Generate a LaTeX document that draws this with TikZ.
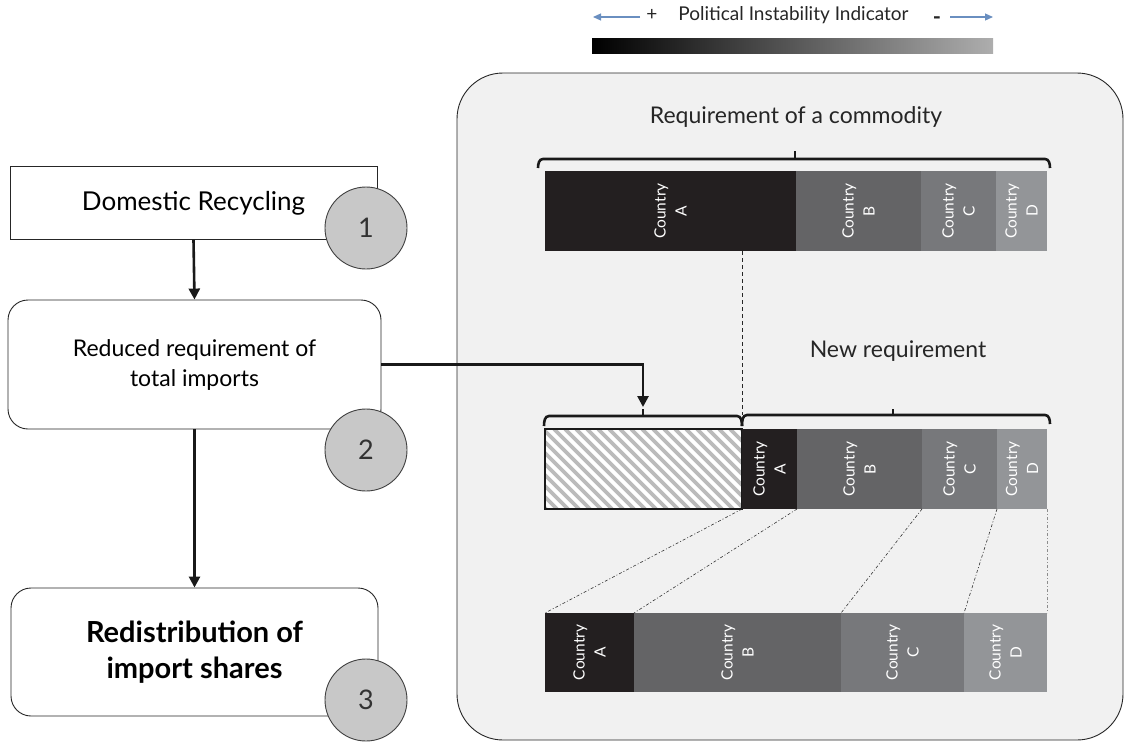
\documentclass[tikz,border=0pt]{standalone}
\usepackage{fontspec}
\setmainfont{Lato}
\usetikzlibrary{arrows.meta}
\definecolor{cA}{HTML}{231F20}
\definecolor{cB}{HTML}{646466}
\definecolor{cC}{HTML}{77787B}
\definecolor{cD}{HTML}{939598}
\definecolor{panelbg}{HTML}{F1F1F1}
\definecolor{circfill}{HTML}{C8C8C8}
\definecolor{legblue}{HTML}{6A8FC0}
\definecolor{hatchc}{HTML}{BBBBBB}
\tikzset{
  box/.style={draw=black!85, line width=0.9pt, fill=white, inner sep=0pt, align=center},
  numc/.style={circle, draw=black!75, line width=0.9pt, fill=circfill, minimum size=82pt, inner sep=0pt, font=\fontsize{27}{30}\selectfont, text=black!80},
  conn/.style={line width=2.6pt, black!90, -{Triangle[length=11pt,width=11pt]}},
  brace/.style={line width=2.6pt, black!90},
  seglabel/.style={rotate=90, align=center, text=white, inner sep=0pt, font=\fontsize{15.5}{21}\selectfont},
  dd/.style={line width=0.6pt, black!80, dash pattern=on 3pt off 2pt on 1pt off 2pt},
  legtext/.style={font=\fontsize{19}{22}\selectfont, text=black!85},
  title/.style={font=\fontsize{23}{27}\selectfont, text=black!85},
}
\newcommand{\segm}[7]{%
  \fill[#6] (#2,#4) rectangle (#3,#5);
  \node[seglabel] (#1) at ({(#2+#3)/2},{(#4+#5)/2}) {Country\\#7};}
\begin{document}
\begin{tikzpicture}[x=1pt,y=-1pt]
\useasboundingbox (0,0) rectangle (1124,742);
% legend
\shade[left color=black, right color=black!32] (592,38) rectangle (993,53);
\node[legtext] (leg) at (793.5,15) {Political Instability Indicator};
\node[legtext] (plus) at (652,15) {+};
\node[legtext, font=\fontsize{22}{22}\selectfont\bfseries, anchor=base] (minus) at (937,24) {-};
\coordinate (la1) at (640,17); \coordinate (la2) at (593,17);
\coordinate (ra1) at (950,17); \coordinate (ra2) at (993,17);
\draw[legblue, line width=1.2pt, -{Triangle[length=8pt,width=7pt]}] (la1) -- (la2);
\draw[legblue, line width=1.2pt, -{Triangle[length=8pt,width=7pt]}] (ra1) -- (ra2);
% panel
\node[draw=black!85, line width=0.9pt, fill=panelbg, rounded corners=46pt, minimum width=666pt, minimum height=667pt, inner sep=0pt] (panel) at (790,406.5) {};
\node[title] (t1) at (796,117) {Requirement of a commodity};
\node[title] (t2) at (898,351) {New requirement};
% top bar
\segm{a1}{545}{796}{171}{251}{cA}{A}
\segm{b1s}{796}{921}{171}{251}{cB}{B}
\segm{c1}{921}{996}{171}{251}{cC}{C}
\segm{d1}{996}{1047}{171}{251}{cD}{D}
% top brace
\draw[brace] (538,168) to[out=90,in=180] (543,159) -- (1045,159) to[out=0,in=90] (1050,168);
\draw[brace] (795,159) -- (795,151);
% middle bar
\fill[white] (545,429) rectangle (742,509);
\begin{scope}
\clip (545,429) rectangle (742,509);
\foreach \i in {-90,-79,...,210} \draw[hatchc, line width=3.6pt] (545+\i,429) -- ++(80,80);
\end{scope}
\node[draw=black!90, line width=1.2pt, minimum width=197pt, minimum height=80pt, inner sep=0pt] (hatch) at (643.5,469) {};
\segm{a2}{742}{797}{429}{509}{cA}{A}
\segm{b2s}{797}{922}{429}{509}{cB}{B}
\segm{c2}{922}{997}{429}{509}{cC}{C}
\segm{d2}{997}{1047}{429}{509}{cD}{D}
% middle braces
\draw[brace] (544,426) to[out=90,in=180] (549,416) -- (737,416) to[out=0,in=90] (742,426);
\draw[brace] (643,416) -- (643,409);
\draw[brace] (742,426) to[out=90,in=180] (747,415) -- (1045,415) to[out=0,in=90] (1050,424);
\draw[brace] (893,415) -- (893,409);
% dashed vertical
\coordinate (dv1) at (742,251); \coordinate (dv2) at (742,415);
\draw[black!85, line width=0.8pt, dash pattern=on 4pt off 3pt] (dv1) -- (dv2);
% bottom bar
\segm{a3}{545}{634}{613}{692}{cA}{A}
\segm{b3s}{634}{841}{613}{692}{cB}{B}
\segm{c3}{841}{964}{613}{692}{cC}{C}
\segm{d3}{964}{1047}{613}{692}{cD}{D}
% dash-dot lines
\coordinate (p1) at (742,509); \coordinate (q1) at (545,613);
\coordinate (p2) at (797,509); \coordinate (q2) at (634,613);
\coordinate (p3) at (922,509); \coordinate (q3) at (841,613);
\coordinate (p4) at (997,509); \coordinate (q4) at (964,613);
\coordinate (p5) at (1047,509); \coordinate (q5) at (1047,613);
\draw[dd] (p1) -- (q1);
\draw[dd] (p2) -- (q2);
\draw[dd] (p3) -- (q3);
\draw[dd] (p4) -- (q4);
\draw[dd, black!45] (p5) -- (q5);
% left boxes
\node[box, minimum width=367pt, minimum height=73pt, font=\fontsize{26}{30}\selectfont] (b1) at (193.5,203) {Domestic Recycling};
\node[box, rounded corners=20pt, minimum width=373pt, minimum height=129pt, font=\fontsize{23}{30}\selectfont] (b2) at (194.5,364.5) {Reduced requirement of\\total imports};
\node[box, rounded corners=20pt, minimum width=367pt, minimum height=128pt, font=\fontsize{29}{36}\selectfont\bfseries] (b3) at (194.5,652) {Redistribution of\\import shares};
\node[numc] (n1) at (366,228) {1};
\node[numc] (n2) at (366,450) {2};
\node[numc] (n3) at (366,700) {3};
% connectors
\draw[conn] (b1.south) -- (b2.north);
\draw[conn] (b2.south) -- (b3.north);
\coordinate (tip) at (643,407);
\draw[conn] (b2.east) -| (tip);
\end{tikzpicture}
\end{document}
